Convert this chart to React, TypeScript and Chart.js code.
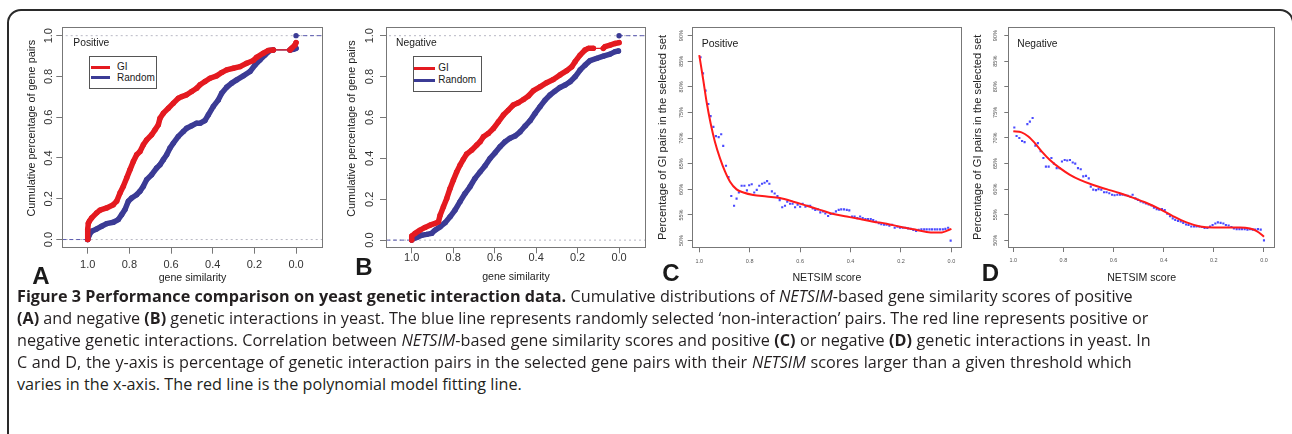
import React, { useEffect, useLayoutEffect, useRef } from 'react';
import { Chart, registerables } from 'chart.js';

Chart.register(...registerables);

// ---------------- data ----------------
// Panel A (positive GI): cumulative percentage vs gene similarity
const A_GI_X = [1.0, 1.0, 0.997, 0.992, 0.981, 0.957, 0.941, 0.909, 0.877, 0.861, 0.845, 0.829, 0.813, 0.797, 0.781, 0.765, 0.749, 0.733, 0.717, 0.693, 0.677, 0.661, 0.653, 0.637, 0.613, 0.589, 0.565, 0.549, 0.525, 0.501, 0.477, 0.461, 0.437, 0.413, 0.381, 0.357, 0.333, 0.301, 0.269, 0.237, 0.205, 0.189, 0.157, 0.133, 0.109, 0.029, 0.021, 0.005, 0.0];
const A_GI_Y = [0.0, 0.05, 0.08, 0.09, 0.106, 0.131, 0.144, 0.155, 0.171, 0.188, 0.228, 0.261, 0.302, 0.343, 0.383, 0.416, 0.432, 0.465, 0.489, 0.514, 0.538, 0.563, 0.595, 0.62, 0.644, 0.669, 0.693, 0.701, 0.71, 0.726, 0.742, 0.759, 0.775, 0.791, 0.803, 0.819, 0.832, 0.84, 0.848, 0.865, 0.878, 0.894, 0.914, 0.927, 0.93, 0.93, 0.938, 0.954, 0.966];
const A_RND_X = [1.0, 0.992, 0.981, 0.957, 0.933, 0.909, 0.877, 0.853, 0.837, 0.821, 0.805, 0.789, 0.765, 0.749, 0.733, 0.717, 0.693, 0.669, 0.653, 0.637, 0.621, 0.605, 0.589, 0.565, 0.541, 0.525, 0.501, 0.477, 0.46, 0.437, 0.421, 0.397, 0.373, 0.357, 0.333, 0.309, 0.285, 0.253, 0.221, 0.197, 0.173, 0.149, 0.125, 0.109, 0.029, 0.013, 0.0];
const A_RND_Y = [0.0, 0.024, 0.041, 0.052, 0.065, 0.078, 0.085, 0.098, 0.122, 0.147, 0.188, 0.204, 0.22, 0.237, 0.261, 0.294, 0.318, 0.351, 0.367, 0.392, 0.416, 0.449, 0.473, 0.506, 0.53, 0.546, 0.558, 0.571, 0.571, 0.584, 0.612, 0.653, 0.685, 0.718, 0.747, 0.767, 0.783, 0.803, 0.824, 0.856, 0.881, 0.905, 0.927, 0.93, 0.93, 0.933, 0.938];

// Panel B (negative GI)
const B_GI_X = [1.0, 1.0, 0.984, 0.96, 0.936, 0.912, 0.887, 0.871, 0.863, 0.847, 0.831, 0.815, 0.799, 0.783, 0.767, 0.751, 0.735, 0.711, 0.686, 0.67, 0.654, 0.63, 0.606, 0.582, 0.558, 0.534, 0.51, 0.486, 0.461, 0.437, 0.413, 0.381, 0.349, 0.317, 0.285, 0.252, 0.228, 0.212, 0.188, 0.164, 0.148, 0.124, 0.076, 0.068, 0.043, 0.019, 0.0];
const B_GI_Y = [0.0, 0.02, 0.033, 0.049, 0.062, 0.073, 0.082, 0.09, 0.122, 0.163, 0.204, 0.253, 0.294, 0.334, 0.367, 0.395, 0.421, 0.44, 0.465, 0.481, 0.506, 0.522, 0.546, 0.579, 0.612, 0.636, 0.661, 0.672, 0.688, 0.705, 0.731, 0.75, 0.77, 0.786, 0.808, 0.829, 0.848, 0.873, 0.905, 0.93, 0.938, 0.938, 0.938, 0.946, 0.954, 0.962, 0.966];
const B_RND_X = [1.0, 1.0, 0.976, 0.952, 0.928, 0.904, 0.887, 0.863, 0.839, 0.815, 0.791, 0.767, 0.743, 0.719, 0.695, 0.67, 0.646, 0.622, 0.598, 0.574, 0.55, 0.526, 0.502, 0.477, 0.453, 0.429, 0.405, 0.381, 0.357, 0.333, 0.309, 0.285, 0.26, 0.236, 0.212, 0.188, 0.164, 0.14, 0.108, 0.076, 0.043, 0.019, 0.003];
const B_RND_Y = [0.0, 0.003, 0.013, 0.024, 0.028, 0.033, 0.049, 0.065, 0.085, 0.114, 0.147, 0.188, 0.228, 0.261, 0.302, 0.334, 0.364, 0.4, 0.427, 0.457, 0.481, 0.498, 0.509, 0.53, 0.558, 0.584, 0.62, 0.653, 0.685, 0.71, 0.729, 0.747, 0.759, 0.775, 0.799, 0.832, 0.856, 0.878, 0.889, 0.9, 0.91, 0.922, 0.925];

// Panel C (positive): percentage of GI pairs vs NETSIM threshold
const C_PTS_X = [0.995, 0.985, 0.975, 0.964, 0.955, 0.944, 0.934, 0.923, 0.913, 0.905, 0.894, 0.884, 0.873, 0.862, 0.852, 0.843, 0.832, 0.821, 0.811, 0.802, 0.792, 0.782, 0.772, 0.762, 0.751, 0.741, 0.731, 0.722, 0.712, 0.701, 0.69, 0.681, 0.671, 0.66, 0.651, 0.64, 0.63, 0.62, 0.61, 0.6, 0.59, 0.579, 0.57, 0.56, 0.55, 0.54, 0.53, 0.52, 0.509, 0.5, 0.489, 0.479, 0.468, 0.458, 0.447, 0.437, 0.426, 0.415, 0.405, 0.394, 0.384, 0.373, 0.362, 0.352, 0.341, 0.331, 0.32, 0.31, 0.299, 0.288, 0.278, 0.267, 0.257, 0.246, 0.235, 0.225, 0.214, 0.204, 0.193, 0.183, 0.172, 0.161, 0.151, 0.14, 0.13, 0.119, 0.108, 0.098, 0.087, 0.077, 0.066, 0.056, 0.045, 0.034, 0.024, 0.013, 0.003];
const C_PTS_Y = [85.8, 82.65, 79.27, 76.67, 74.3, 72.2, 70.4, 70.2, 70.75, 68.5, 64.6, 62.4, 58.7, 56.8, 58.2, 59.4, 60.7, 60.7, 59.8, 60.8, 61.0, 59.4, 59.9, 60.7, 61.1, 61.3, 61.6, 61.1, 59.6, 59.2, 58.7, 57.9, 56.5, 56.8, 57.6, 57.2, 57.2, 56.5, 57.0, 56.6, 57.2, 56.6, 56.8, 56.8, 56.3, 56.0, 56.1, 55.5, 55.7, 55.3, 54.8, 55.2, 55.3, 55.7, 56.0, 56.1, 56.1, 56.0, 55.9, 54.7, 54.7, 54.4, 54.7, 54.4, 54.2, 54.2, 54.2, 54.0, 53.7, 53.4, 53.2, 53.1, 53.1, 52.9, 53.1, 52.5, 52.7, 52.5, 52.5, 52.5, 52.4, 52.3, 52.1, 51.9, 52.1, 52.2, 52.2, 52.2, 52.2, 52.2, 52.2, 52.2, 52.2, 52.2, 52.3, 52.5, 50.0];
const C_FIT_X = [1.0, 0.984, 0.971, 0.955, 0.938, 0.918, 0.898, 0.878, 0.852, 0.825, 0.786, 0.733, 0.68, 0.627, 0.574, 0.521, 0.468, 0.415, 0.362, 0.31, 0.257, 0.204, 0.151, 0.098, 0.065, 0.038, 0.019, 0.0];
const C_FIT_Y = [86.2, 81.3, 77.1, 72.9, 69.3, 66.1, 63.5, 61.5, 60.0, 59.4, 58.9, 58.6, 58.3, 57.6, 56.8, 56.0, 55.2, 54.7, 54.2, 53.7, 53.3, 52.7, 52.2, 51.7, 51.6, 51.6, 51.9, 52.3];

// Panel D (negative)
const D_PTS_X = [0.996, 0.987, 0.976, 0.965, 0.955, 0.944, 0.934, 0.923, 0.912, 0.902, 0.891, 0.88, 0.87, 0.859, 0.848, 0.838, 0.827, 0.816, 0.806, 0.795, 0.785, 0.774, 0.763, 0.753, 0.742, 0.731, 0.721, 0.71, 0.699, 0.691, 0.681, 0.67, 0.66, 0.649, 0.638, 0.628, 0.617, 0.606, 0.596, 0.585, 0.574, 0.564, 0.553, 0.543, 0.532, 0.524, 0.513, 0.503, 0.492, 0.481, 0.471, 0.46, 0.449, 0.439, 0.428, 0.418, 0.407, 0.396, 0.386, 0.375, 0.364, 0.354, 0.343, 0.332, 0.322, 0.311, 0.301, 0.29, 0.279, 0.269, 0.258, 0.247, 0.237, 0.226, 0.215, 0.205, 0.194, 0.184, 0.173, 0.162, 0.152, 0.141, 0.13, 0.12, 0.109, 0.098, 0.088, 0.077, 0.066, 0.056, 0.045, 0.035, 0.024, 0.013, 0.0];
const D_PTS_Y = [72.05, 70.4, 70.0, 69.4, 69.2, 72.7, 73.2, 73.9, 68.5, 69.0, 67.4, 66.1, 64.4, 64.4, 66.1, 65.0, 64.1, 64.1, 65.4, 65.7, 65.6, 65.7, 65.2, 65.0, 64.1, 63.9, 62.5, 62.6, 62.1, 60.5, 59.9, 59.8, 60.0, 59.9, 59.4, 59.4, 59.2, 58.9, 58.8, 58.9, 58.9, 58.9, 58.8, 58.7, 58.5, 58.9, 58.2, 57.9, 57.6, 57.4, 57.2, 57.0, 56.8, 56.4, 56.1, 56.0, 56.1, 55.9, 55.2, 54.7, 54.3, 54.0, 53.8, 53.7, 53.4, 53.1, 53.0, 52.7, 52.7, 52.7, 52.7, 52.6, 52.4, 52.4, 52.7, 53.0, 53.3, 53.5, 53.4, 53.3, 53.0, 52.9, 52.6, 52.3, 52.2, 52.2, 52.2, 52.2, 52.1, 52.2, 52.1, 52.1, 52.2, 52.1, 50.0];
const D_FIT_X = [1.0, 0.967, 0.94, 0.914, 0.887, 0.854, 0.814, 0.774, 0.734, 0.681, 0.628, 0.574, 0.521, 0.468, 0.415, 0.362, 0.309, 0.255, 0.202, 0.149, 0.096, 0.056, 0.029, 0.009, 0.0];
const D_FIT_Y = [71.3, 71.1, 70.3, 69.0, 67.4, 65.7, 64.1, 62.8, 61.8, 60.8, 60.0, 59.2, 58.3, 57.3, 56.1, 54.7, 53.5, 52.7, 52.5, 52.5, 52.5, 52.3, 51.8, 51.1, 50.7];

// tick values and labels
const SIM_TICKS = [0, 0.2, 0.4, 0.6, 0.8, 1.0];
const CUM_TICKS = [0, 0.2, 0.4, 0.6, 0.8, 1.0];
const PCT_TICKS = [50, 55, 60, 65, 70, 75, 80, 85, 90];
const SERIES_NAMES = ['GI', 'Random'];
const PANEL_LETTERS = ['A', 'B', 'C', 'D'];
const PANEL_TAGS = ['Positive', 'Negative', 'Positive', 'Negative'];

// ---------------- styling ----------------
const FONT = '"Liberation Sans", Arial, Helvetica, sans-serif';
const CAP_FONT = '"Open Sans", "Noto Sans", sans-serif';
const RED = '#e41a20';
const NAVY = '#3b3b95';
const PT_BLUE = '#4a4aff';
const FIT_RED = '#ff1a1a';
const AXIS_GRAY = '#777';
const TXT = '#333';

const zip = (xs: number[], ys: number[]) => xs.map((x, i) => ({ x, y: ys[i] }));

const boxPlugin = {
  id: 'rbox',
  afterDatasetsDraw(chart: any) {
    const { ctx, chartArea } = chart;
    const l = Math.round(chartArea.left) + 0.5;
    const t = Math.round(chartArea.top) + 0.5;
    const r = Math.round(chartArea.right) - 0.5;
    const b = Math.round(chartArea.bottom) - 0.5;
    ctx.save();
    ctx.strokeStyle = AXIS_GRAY;
    ctx.lineWidth = 1;
    ctx.strokeRect(l, t, r - l, b - t);
    ctx.restore();
  },
};

function ecdfDataset(label: string, xs: number[], ys: number[], color: string, order: number) {
  return {
    label,
    data: zip(xs, ys),
    borderColor: color,
    backgroundColor: color,
    borderWidth: 5.5,
    borderCapStyle: 'round',
    borderJoinStyle: 'round',
    pointRadius: 2.7,
    pointBorderWidth: 0,
    pointBackgroundColor: color,
    tension: 0,
    order,
    segment: {
      borderWidth: (c: any) => (Math.abs(c.p0.parsed.x - c.p1.parsed.x) > 0.045 ? 1.2 : 5.5),
    },
  };
}

function refLines(xMin: number, xMax: number) {
  const gray = { borderColor: '#b8b8c4', borderWidth: 1, borderDash: [2, 3], pointRadius: 0, order: 5 };
  const blue = { borderColor: '#5c5cb0', borderWidth: 1, borderDash: [4, 3], order: 4 };
  return [
    { label: 'h1', data: [{ x: xMin, y: 1 }, { x: xMax, y: 1 }], ...gray },
    { label: 'h0', data: [{ x: xMin, y: 0 }, { x: xMax, y: 0 }], ...gray },
    { label: 'e0', data: [{ x: xMax, y: 0 }, { x: 1, y: 0 }], ...blue, pointRadius: 0 },
    { label: 'e1', data: [{ x: 0, y: 1 }, { x: xMin, y: 1 }], ...blue, pointRadius: [2.7, 0], pointBackgroundColor: NAVY, pointBorderWidth: 0 },
  ];
}

function fitDatasets(px: number[], py: number[], fx: number[], fy: number[]) {
  return [
    { label: 'fit', data: zip(fx, fy), borderColor: FIT_RED, borderWidth: 2, pointRadius: 0, cubicInterpolationMode: 'monotone', order: 0 },
    { label: 'pts', data: zip(px, py), showLine: false, pointStyle: 'rect', pointRadius: 1.5, pointBackgroundColor: PT_BLUE, pointBorderWidth: 0, borderColor: PT_BLUE, order: 1 },
  ];
}

type Panel = {
  geom: { left: number; top: number; w: number; h: number; boxL: number; boxR: number; boxT: number; boxB: number };
  x: { min: number; max: number; ticks: number[]; fmt: (v: number) => string; tl: number; pad: number; title: string; titleSize: number; titlePad: number };
  y: { min: number; max: number; ticks: number[]; fmt: (v: number) => string; tl: number; pad: number; title: string; titleSize: number; titlePad: number };
  tickSize: number;
  tickColor: string;
  datasets: any[];
};

const f1 = (v: number) => v.toFixed(1);
const pct = (v: number) => `${v}%`;

const A_XMIN = -0.128, A_XMAX = 1.122;
const B_XMIN = -0.13, B_XMAX = 1.124;

const PANELS: Panel[] = [
  {
    geom: { left: 10, top: 12, w: 320, h: 280, boxL: 62.3, boxR: 322.7, boxT: 26.7, boxB: 247.7 },
    x: { min: A_XMIN, max: A_XMAX, ticks: SIM_TICKS, fmt: f1, tl: 6, pad: 5.8, title: 'gene similarity', titleSize: 10.6, titlePad: 7.4 },
    y: { min: -0.04, max: 1.044, ticks: CUM_TICKS, fmt: f1, tl: 6, pad: 0, title: '      Cumulative percentage of gene pairs', titleSize: 10.8, titlePad: 15.5 },
    tickSize: 11,
    tickColor: TXT,
    datasets: [
      ecdfDataset(SERIES_NAMES[0], A_GI_X, A_GI_Y, RED, 0),
      ecdfDataset(SERIES_NAMES[1], A_RND_X, A_RND_Y, NAVY, 1),
      ...refLines(A_XMIN, A_XMAX),
    ],
  },
  {
    geom: { left: 332, top: 12, w: 318, h: 280, boxL: 386, boxR: 646, boxT: 26.7, boxB: 248.3 },
    x: { min: B_XMIN, max: B_XMAX, ticks: SIM_TICKS, fmt: f1, tl: 5, pad: -1, title: 'gene similarity', titleSize: 10.6, titlePad: 9 },
    y: { min: -0.04, max: 1.044, ticks: CUM_TICKS, fmt: f1, tl: 6, pad: 2.4, title: '      Cumulative percentage of gene pairs', titleSize: 10.8, titlePad: 13.5 },
    tickSize: 11,
    tickColor: TXT,
    datasets: [
      ecdfDataset(SERIES_NAMES[0], B_GI_X, B_GI_Y, RED, 0),
      ecdfDataset(SERIES_NAMES[1], B_RND_X, B_RND_Y, NAVY, 1),
      ...refLines(B_XMIN, B_XMAX),
    ],
  },
  {
    geom: { left: 652, top: 12, w: 314, h: 280, boxL: 691.7, boxR: 962, boxT: 26.7, boxB: 248.3 },
    x: { min: -0.042, max: 1.03, ticks: SIM_TICKS, fmt: f1, tl: 4, pad: 6, title: 'NETSIM score', titleSize: 10.6, titlePad: 7.4 },
    y: { min: 48.5, max: 91.75, ticks: PCT_TICKS, fmt: pct, tl: 4, pad: 1.2, title: 'Percentage of GI pairs in the selected set', titleSize: 11.2, titlePad: 4.6 },
    tickSize: 5.5,
    tickColor: '#555',
    datasets: fitDatasets(C_PTS_X, C_PTS_Y, C_FIT_X, C_FIT_Y),
  },
  {
    geom: { left: 968, top: 12, w: 320, h: 280, boxL: 1008.3, boxR: 1275, boxT: 26.7, boxB: 248 },
    x: { min: -0.044, max: 1.02, ticks: SIM_TICKS, fmt: f1, tl: 4, pad: 5.3, title: 'NETSIM score', titleSize: 10.6, titlePad: 7.4 },
    y: { min: 48.5, max: 91.75, ticks: PCT_TICKS, fmt: pct, tl: 4, pad: 3.8, title: 'Percentage of GI pairs in the selected set', titleSize: 11.2, titlePad: 3.6 },
    tickSize: 5.5,
    tickColor: '#555',
    datasets: fitDatasets(D_PTS_X, D_PTS_Y, D_FIT_X, D_FIT_Y),
  },
];

function buildConfig(p: Panel): any {
  const g = p.geom;
  const tickFont = { family: FONT, size: p.tickSize, lineHeight: 1 };
  const grid = (tl: number) => ({ drawOnChartArea: false, drawTicks: true, tickLength: tl, color: AXIS_GRAY, tickColor: AXIS_GRAY, lineWidth: 1 });
  return {
    type: 'line',
    data: { datasets: p.datasets },
    plugins: [boxPlugin],
    options: {
      responsive: false,
      maintainAspectRatio: false,
      animation: false,
      devicePixelRatio: 1,
      events: [],
      layout: { padding: { left: 0, top: g.boxT - g.top, right: g.left + g.w - g.boxR, bottom: 0 } },
      plugins: { legend: { display: false }, tooltip: { enabled: false } },
      scales: {
        x: {
          type: 'linear',
          reverse: true,
          min: p.x.min,
          max: p.x.max,
          afterBuildTicks: (s: any) => { s.ticks = p.x.ticks.map((v) => ({ value: v })); },
          afterFit: (s: any) => { s.height = g.top + g.h - g.boxB; },
          ticks: { callback: (v: any) => p.x.fmt(Number(v)), font: tickFont, color: p.tickColor, padding: p.x.pad, autoSkip: false, minRotation: 0, maxRotation: 0 },
          grid: grid(p.x.tl),
          border: { display: false },
          title: { display: true, text: p.x.title, color: '#222', font: { family: FONT, size: p.x.titleSize }, padding: { top: 0, bottom: p.x.titlePad } },
        },
        y: {
          type: 'linear',
          min: p.y.min,
          max: p.y.max,
          afterBuildTicks: (s: any) => { s.ticks = p.y.ticks.map((v) => ({ value: v })); },
          afterFit: (s: any) => { s.width = g.boxL - g.left; },
          ticks: { callback: (v: any) => p.y.fmt(Number(v)), font: tickFont, color: p.tickColor, padding: p.y.pad, autoSkip: false, minRotation: 90, maxRotation: 90, crossAlign: 'center' },
          grid: grid(p.y.tl),
          border: { display: false },
          title: { display: true, text: p.y.title, color: '#222', font: { family: FONT, size: p.y.titleSize }, padding: { top: p.y.titlePad, bottom: 0 } },
        },
      },
    },
  };
}

// ---------------- overlay text ----------------
const LETTER_POS = [[41, 276], [364, 267], [671, 273], [990.5, 273]];
const TAG_POS = [[73.3, 42.5], [396, 43], [701.7, 43.3], [1017.3, 44.3]];
const TAG_SIZE = [10.3, 10.3, 10.5, 10.2];
const LEGENDS = [
  { l: 89.3, t: 56, w: 67.4, h: 33, x1: 90.7, x2: 110, tx: 117, rows: [67, 77.7] },
  { l: 412.7, t: 56, w: 69, h: 35.7, x1: 414.3, x2: 435, tx: 438.3, rows: [68.3, 80] },
];

type Seg = [string, string];
const CAPTION: Seg[][] = [
  [['b', 'Figure 3 Performance comparison on yeast genetic interaction data.'], ['n', ' Cumulative distributions of '], ['i', 'NETSIM'], ['n', '-based gene similarity scores of positive']],
  [['b', '(A)'], ['n', ' and negative '], ['b', '(B)'], ['n', ' genetic interactions in yeast. The blue line represents randomly selected \u2018non-interaction\u2019 pairs. The red line represents positive or']],
  [['n', 'negative genetic interactions. Correlation between '], ['i', 'NETSIM'], ['n', '-based gene similarity scores and positive '], ['b', '(C)'], ['n', ' or negative '], ['b', '(D)'], ['n', ' genetic interactions in yeast. In']],
  [['n', 'C and D, the y-axis is percentage of genetic interaction pairs in the selected gene pairs with their '], ['i', 'NETSIM'], ['n', ' scores larger than a given threshold which']],
  [['n', 'varies in the x-axis. The red line is the polynomial model fitting line.']],
];
const CAP_LEFT = 17;
// right edges of the justified lines (the last line is left ragged)
const CAP_RIGHT = [1132.7, 1148.3, 1150.7, 1131.7];
const CAP_TOP = [285.3, 307.3, 329.3, 351, 373];

function Txt(props: { x: number; y: number; size: number; bold?: boolean; center?: boolean; children: any }) {
  return (
    <div
      style={{
        position: 'absolute',
        left: props.x,
        top: props.y,
        transform: props.center ? 'translate(-50%, -50%)' : 'translateY(-50%)',
        fontFamily: FONT,
        fontSize: props.size,
        fontWeight: props.bold ? 700 : 400,
        lineHeight: 1,
        whiteSpace: 'nowrap',
        color: '#1a1a1a',
      }}
    >
      {props.children}
    </div>
  );
}

export default function App() {
  const c0 = useRef<HTMLCanvasElement>(null);
  const c1 = useRef<HTMLCanvasElement>(null);
  const c2 = useRef<HTMLCanvasElement>(null);
  const c3 = useRef<HTMLCanvasElement>(null);
  const canvasRefs = [c0, c1, c2, c3];
  const lineRefs = useRef<(HTMLDivElement | null)[]>([]);

  useEffect(() => {
    const charts = PANELS.map((p, i) => new Chart(canvasRefs[i].current as HTMLCanvasElement, buildConfig(p)));
    return () => charts.forEach((c) => c.destroy());
  }, []);

  useLayoutEffect(() => {
    const fit = () => {
      const els = lineRefs.current;
      const nat = els.map((el) => {
        if (!el) return 0;
        el.style.transform = 'none';
        el.style.wordSpacing = '0px';
        return el.getBoundingClientRect().width;
      });
      // one common horizontal scale so that no justified line needs negative spacing
      let s = Infinity;
      CAP_RIGHT.forEach((r, i) => {
        if (nat[i] > 0) s = Math.min(s, (r - CAP_LEFT) / nat[i]);
      });
      if (!isFinite(s)) return;
      els.forEach((el, i) => {
        if (!el) return;
        let ws = 0;
        if (i < CAP_RIGHT.length) {
          const spaces = ((el.textContent || '').match(/ /g) || []).length;
          const desired = (CAP_RIGHT[i] - CAP_LEFT) / s;
          ws = spaces ? (desired - nat[i]) / spaces : 0;
        }
        el.style.wordSpacing = `${ws}px`;
        el.style.transform = `scaleX(${s})`;
      });
    };
    fit();
    const fonts = (document as any).fonts;
    if (fonts && fonts.ready) fonts.ready.then(fit);
  }, []);

  return (
    <div style={{ position: 'fixed', left: 0, top: 0, width: 1292, height: 434, overflow: 'hidden', background: '#fff' }}>
      <div
        style={{
          position: 'absolute',
          left: 7,
          top: 9,
          width: 1287,
          height: 440,
          border: '2px solid #2a2a2a',
          borderRadius: 14,
          boxSizing: 'border-box',
        }}
      />
      {PANELS.map((p, i) => (
        <canvas
          key={i}
          ref={canvasRefs[i]}
          width={p.geom.w}
          height={p.geom.h}
          style={{ position: 'absolute', left: p.geom.left, top: p.geom.top, width: p.geom.w, height: p.geom.h }}
        />
      ))}
      {PANEL_TAGS.map((t, i) => (
        <Txt key={'tag' + i} x={TAG_POS[i][0]} y={TAG_POS[i][1]} size={TAG_SIZE[i]}>{t}</Txt>
      ))}
      {PANEL_LETTERS.map((t, i) => (
        <Txt key={'let' + i} x={LETTER_POS[i][0]} y={LETTER_POS[i][1]} size={24} bold center>{t}</Txt>
      ))}
      {LEGENDS.map((lg, i) => (
        <React.Fragment key={'lg' + i}>
          <div style={{ position: 'absolute', left: lg.l, top: lg.t, width: lg.w, height: lg.h, border: '1px solid #555', boxSizing: 'border-box', background: '#fff' }} />
          {SERIES_NAMES.map((name, j) => (
            <React.Fragment key={name}>
              <div style={{ position: 'absolute', left: lg.x1, top: lg.rows[j] - 1.5, width: lg.x2 - lg.x1, height: 3, background: j === 0 ? RED : NAVY }} />
              <Txt x={lg.tx} y={lg.rows[j]} size={10}>{name}</Txt>
            </React.Fragment>
          ))}
        </React.Fragment>
      ))}
      {CAPTION.map((segs, i) => (
        <div
          key={'cap' + i}
          ref={(el) => { lineRefs.current[i] = el; }}
          style={{
            position: 'absolute',
            left: CAP_LEFT,
            top: CAP_TOP[i],
            fontFamily: CAP_FONT,
            fontSize: 15.5,
            lineHeight: '22px',
            whiteSpace: 'nowrap',
            color: '#231f20',
            transformOrigin: '0 0',
          }}
        >
          {segs.map(([s, t], k) =>
            s === 'b' ? <b key={k} style={{ fontWeight: 700 }}>{t}</b> : s === 'i' ? <i key={k}>{t}</i> : <span key={k}>{t}</span>
          )}
        </div>
      ))}
    </div>
  );
}
